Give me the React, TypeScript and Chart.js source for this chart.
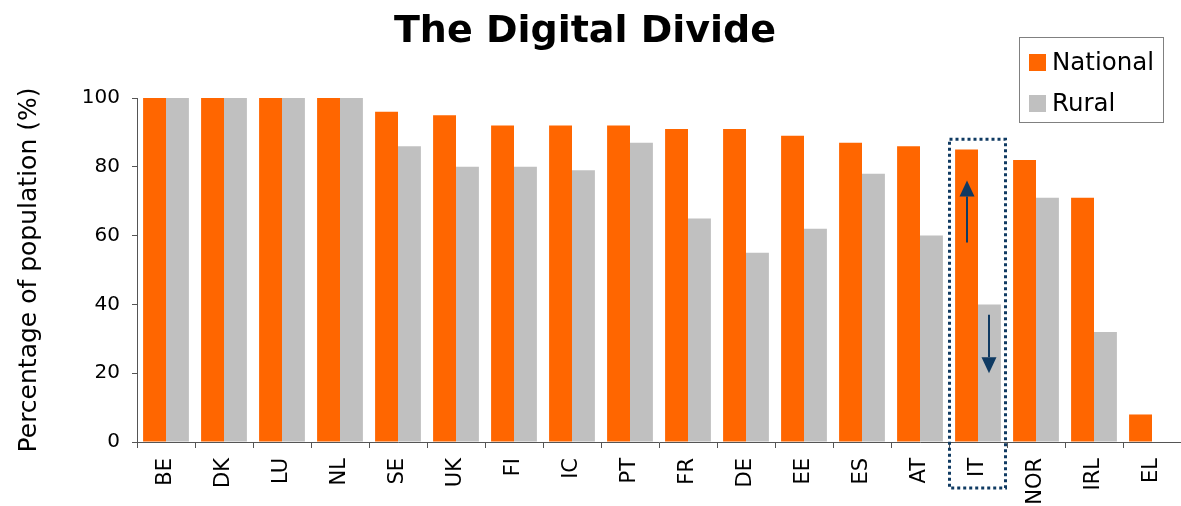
import React, { useEffect, useRef } from "react";
import { Chart, registerables } from "chart.js";

Chart.register(...registerables);

const categories = ["BE", "DK", "LU", "NL", "SE", "UK", "FI", "IC", "PT", "FR", "DE", "EE", "ES", "AT", "IT", "NOR", "IRL", "EL"];
const nationalValues = [100, 100, 100, 100, 96, 95, 92, 92, 92, 91, 91, 89, 87, 86, 85, 82, 71, 8];
const ruralValues = [100, 100, 100, 100, 86, 80, 80, 79, 87, 65, 55, 62, 78, 60, 40, 71, 32, 0];
const yTicks = [0, 20, 40, 60, 80, 100];
const highlightCategory = "IT";
const highlightTopValue = 88;
const upArrowRange = [58, 76];
const downArrowRange = [37, 20];

const FONT = '"DejaVu Sans", Verdana, sans-serif';
const ORANGE = "#FF6600";
const GRAY = "#C0C0C0";
const NAVY = "#0F3A62";

function drawArrow(ctx: CanvasRenderingContext2D, x: number, yFrom: number, yTo: number) {
  const dir = yTo < yFrom ? -1 : 1;
  const head = 16;
  const half = 7.5;
  ctx.save();
  ctx.strokeStyle = NAVY;
  ctx.fillStyle = NAVY;
  ctx.lineWidth = 2;
  ctx.beginPath();
  ctx.moveTo(x, yFrom);
  ctx.lineTo(x, yTo - dir * head);
  ctx.stroke();
  ctx.beginPath();
  ctx.moveTo(x, yTo);
  ctx.lineTo(x - half, yTo - dir * head);
  ctx.lineTo(x + half, yTo - dir * head);
  ctx.closePath();
  ctx.fill();
  ctx.restore();
}

const decorPlugin = {
  id: "decor",
  afterDraw(chart: any) {
    const ctx: CanvasRenderingContext2D = chart.ctx;
    const xs = chart.scales.x;
    const ys = chart.scales.y;
    const area = chart.chartArea;

    // Title
    ctx.save();
    ctx.fillStyle = "#000";
    ctx.font = `bold 38px ${FONT}`;
    ctx.textAlign = "center";
    ctx.textBaseline = "alphabetic";
    ctx.fillText("The Digital Divide", 585, 42);
    ctx.restore();

    // Legend box
    ctx.save();
    ctx.strokeStyle = "#808080";
    ctx.lineWidth = 1;
    ctx.strokeRect(1019.5, 37.5, 144, 85);
    ctx.fillStyle = ORANGE;
    ctx.fillRect(1029, 54, 17, 17);
    ctx.fillStyle = GRAY;
    ctx.fillRect(1029, 95, 17, 17);
    ctx.fillStyle = "#000";
    ctx.font = `24.5px ${FONT}`;
    ctx.textAlign = "left";
    ctx.textBaseline = "alphabetic";
    ctx.fillText("National", 1052, 70);
    ctx.fillText("Rural", 1052, 111);
    ctx.restore();

    // Highlight box around IT
    const idx = categories.indexOf(highlightCategory);
    const catW = (area.right - area.left) / categories.length;
    const left = xs.getPixelForValue(idx) - catW / 2 + 0.5;
    const right = xs.getPixelForValue(idx) + catW / 2 - 1.5;
    const top = ys.getPixelForValue(highlightTopValue);
    const bottom = area.bottom + 46;
    ctx.save();
    ctx.strokeStyle = NAVY;
    ctx.lineWidth = 3;
    ctx.setLineDash([3, 3]);
    ctx.strokeRect(left, top, right - left, bottom - top);
    ctx.restore();

    // Arrows
    const nBar = chart.getDatasetMeta(0).data[idx];
    const rBar = chart.getDatasetMeta(1).data[idx];
    drawArrow(ctx, Math.round(nBar.x), ys.getPixelForValue(upArrowRange[0]), ys.getPixelForValue(upArrowRange[1]));
    drawArrow(ctx, Math.round(rBar.x), ys.getPixelForValue(downArrowRange[0]), ys.getPixelForValue(downArrowRange[1]));
  },
};

export default function App() {
  const canvasRef = useRef<HTMLCanvasElement | null>(null);

  useEffect(() => {
    if (!canvasRef.current) return;
    const chart = new Chart(canvasRef.current, {
      type: "bar",
      data: {
        labels: categories,
        datasets: [
          { label: "National", data: nationalValues, backgroundColor: ORANGE, borderWidth: 0 },
          { label: "Rural", data: ruralValues, backgroundColor: GRAY, borderWidth: 0 },
        ],
      },
      options: {
        responsive: false,
        animation: false,
        devicePixelRatio: 1,
        layout: { padding: { top: 98, left: 0, right: 0, bottom: 0 } },
        datasets: { bar: { categoryPercentage: 0.79, barPercentage: 1 } },
        plugins: {
          legend: { display: false },
          title: { display: false },
          tooltip: { enabled: false },
        },
        scales: {
          x: {
            afterFit: (s: any) => { s.height = 64; s.paddingRight = 0; s.paddingLeft = 0; },
            grid: { display: true, drawOnChartArea: false, drawTicks: true, tickLength: 6, color: "#555", offset: true },
            border: { display: true, color: "#555", width: 1 },
            ticks: {
              color: "#000",
              font: { family: FONT, size: 21 },
              minRotation: 90,
              maxRotation: 90,
              padding: 10,
              autoSkip: false,
            },
          },
          y: {
            min: 0,
            max: 100,
            afterFit: (s: any) => { s.width = 137; },
            afterBuildTicks: (s: any) => { s.ticks = yTicks.map((v) => ({ value: v })); },
            grid: { display: true, drawOnChartArea: false, drawTicks: true, tickLength: 5, color: "#555" },
            border: { display: true, color: "#555", width: 1 },
            ticks: {
              color: "#000",
              font: { family: FONT, size: 20 },
              padding: 12,
            },
            title: {
              display: true,
              text: "Percentage of population (%)",
              color: "#000",
              font: { family: FONT, size: 25 },
              padding: { top: 14, bottom: 0 },
            },
          },
        },
      },
      plugins: [decorPlugin],
    });
    return () => chart.destroy();
  }, []);

  return (
    <div style={{ position: "absolute", left: 0, top: 0, width: 1181, height: 506, background: "#fff" }}>
      <canvas ref={canvasRef} width={1181} height={506} style={{ display: "block" }} />
    </div>
  );
}
